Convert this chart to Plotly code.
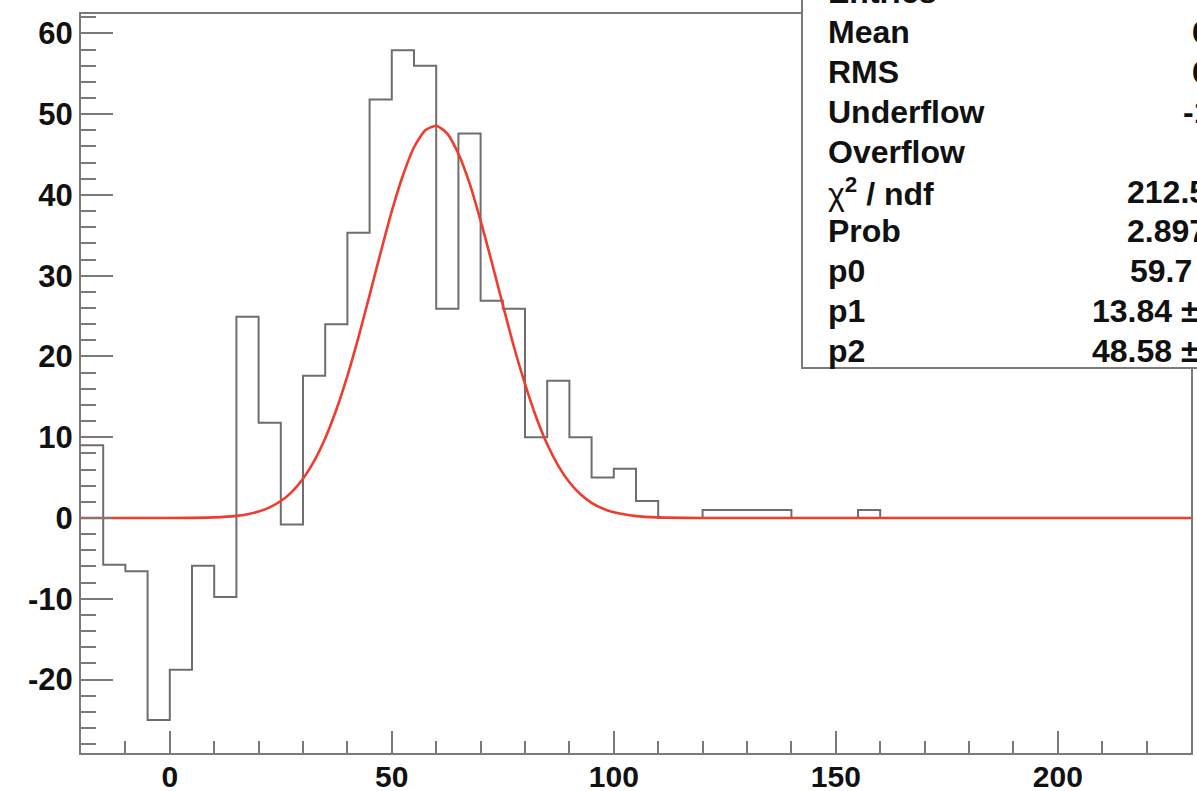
import plotly.graph_objects as go

# ---------------- data ----------------
bin_edges_start = -20
bin_width = 5
hist_values = [9.0, -5.8, -6.6, -25.0, -18.8, -5.9, -9.8, 24.9, 11.8, -0.8,
               17.6, 24.0, 35.3, 51.8, 57.9, 56.0, 25.9, 47.6, 26.9, 25.9,
               10.0, 17.0, 10.0, 5.0, 6.1, 2.1, 0, 0, 1, 1,
               1, 1, 0, 0, 0, 1, 0, 0, 0, 0,
               0, 0, 0, 0, 0, 0, 0, 0, 0, 0]

fit_x = [-20, 0, 10, 15, 17.5, 20, 22.5, 25, 27.5, 30, 32.5, 35, 37.5, 40, 42.5,
         45, 47.5, 50, 52.5, 55, 57.5, 60, 62.5, 65, 67.5, 70, 72.5, 75, 77.5,
         80, 82.5, 85, 87.5, 90, 92.5, 95, 97.5, 100, 105, 110, 120, 230]
fit_y = [0, 0.0, 0.08, 0.26, 0.46, 0.8, 1.31, 2.1, 3.24, 4.86, 7.04, 9.88, 13.4, 17.6, 22.4,
         27.6, 32.9, 38.0, 42.4, 45.9, 47.97, 48.57, 47.6, 45.1, 41.45, 36.8, 31.7, 26.4, 21.2,
         16.6, 12.5, 9.13, 6.46, 4.42, 2.93, 1.88, 1.17, 0.7, 0.23, 0.07, 0.0, 0]

stat_labels = ["Entries", "Mean", "RMS", "Underflow", "Overflow",
               "χ<b><sup>2</sup> / ndf</b>", "Prob", "p0", "p1", "p2"]
stat_values = ["500", "66.03", "60.52", "-15", "0",
               "212.5 / 34", "2.897e-27", "59.7 ± 0.8", "13.84 ± 0.71", "48.58 ± 3.09"]

x_tickvals = [0, 50, 100, 150, 200]
x_ticktext = ["0", "50", "100", "150", "200"]
y_tickvals = [-20, -10, 0, 10, 20, 30, 40, 50, 60]
y_ticktext = ["-20", "-10", "0", "10", "20", "30", "40", "50", "60"]

# ---------------- layout geometry ----------------
W, H = 1197, 791
ML, MR, MT, MB = 81, 6, 14, 38
PW, PH = W - ML - MR, H - MT - MB


def xp(px):
    return (px - ML) / PW


def yp(py):
    return (H - MB - py) / PH


edges = [bin_edges_start + i * bin_width for i in range(len(hist_values) + 1)]
hist_y = hist_values + [hist_values[-1]]

FRAME = "#7a7a7a"
FONT = "Liberation Sans, Arial, sans-serif"

fig = go.Figure()
fig.add_trace(go.Scatter(x=edges, y=hist_y, mode="lines",
                         line=dict(shape="hv", color="#6e6e6e", width=2),
                         hoverinfo="skip", showlegend=False))
fig.add_trace(go.Scatter(x=fit_x, y=fit_y, mode="lines",
                         line=dict(shape="spline", smoothing=0.6, color="#f03c2c", width=2.6),
                         hoverinfo="skip", showlegend=False))

fig.update_layout(
    width=W, height=H,
    margin=dict(l=ML, r=MR, t=MT, b=MB, pad=0, autoexpand=False),
    paper_bgcolor="white", plot_bgcolor="white",
    showlegend=False,
    font=dict(family=FONT, color="#111111"),
)

fig.update_xaxes(
    range=[-20, 230], showgrid=False, zeroline=False, automargin=False,
    showline=True, linecolor=FRAME, linewidth=2, mirror=True,
    tickmode="array", tickvals=x_tickvals, ticktext=x_ticktext,
    ticks="inside", ticklen=22, tickwidth=2, tickcolor=FRAME,
    minor=dict(ticks="inside", ticklen=12, tickwidth=2, tickcolor=FRAME,
               tickmode="linear", tick0=0, dtick=10, showgrid=False),
    tickfont=dict(family=FONT, size=30, weight="bold", color="#111111"),
    ticklabelstandoff=-4,
)
fig.update_yaxes(
    range=[-29.1, 62.4], showgrid=False, zeroline=False, automargin=False,
    showline=True, linecolor=FRAME, linewidth=2, mirror=True,
    tickmode="array", tickvals=y_tickvals, ticktext=y_ticktext,
    ticks="inside", ticklen=32, tickwidth=2, tickcolor=FRAME,
    minor=dict(ticks="inside", ticklen=15, tickwidth=2, tickcolor=FRAME,
               tickmode="linear", tick0=0, dtick=2, showgrid=False),
    tickfont=dict(family=FONT, size=31, weight="bold", color="#111111"),
    ticklabelstandoff=0,
)

# statistics box
fig.add_shape(type="rect", xref="paper", yref="paper",
              x0=xp(802), x1=xp(1240), y0=yp(368), y1=yp(-40),
              line=dict(color=FRAME, width=2), fillcolor="white", layer="above")

row_y0, row_dy = -8, 39.9
value_x = [1200, 1190, 1190, 1181, 1200, 1125, 1125, 1128, 1090, 1090]
for i, (lab, val) in enumerate(zip(stat_labels, stat_values)):
    py = row_y0 + i * row_dy
    fig.add_annotation(xref="paper", yref="paper", x=xp(826), y=yp(py),
                       text=lab if i == 5 else "<b>" + lab + "</b>",
                       showarrow=False, xanchor="left", yanchor="middle",
                       font=dict(family=FONT, size=32, color="#111111"))
    fig.add_annotation(xref="paper", yref="paper", x=xp(value_x[i]), y=yp(py),
                       text="<b>" + val + "</b>",
                       showarrow=False, xanchor="left", yanchor="middle",
                       font=dict(family=FONT, size=32, color="#111111"))

fig.write_html("out.html", config={"displayModeBar": False},
               post_script="document.body.style.margin='0';document.body.style.overflow='hidden';")
